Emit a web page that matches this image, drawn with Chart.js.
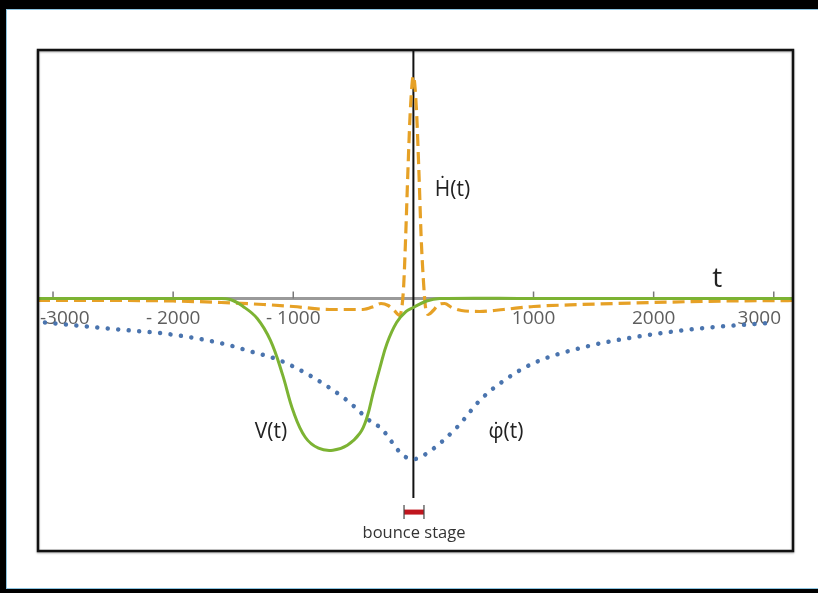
<!DOCTYPE html>
<html>
<head>
<meta charset="utf-8">
<script src="https://cdn.jsdelivr.net/npm/chart.js@4.4.1/dist/chart.umd.min.js"></script>
<style>
  html, body { margin: 0; padding: 0; background: #000; overflow: hidden; }
  #panel { position: absolute; left: 6px; top: 9px; width: 830px; height: 578px; background: #fff; border: 1px solid #8cc4e0; border-right: none; }
  #chart { position: absolute; left: 0; top: 0; }
</style>
</head>
<body>
<div id="panel"></div>
<canvas id="chart" width="818" height="593"></canvas>
<script>
// axis ticks
const tickValues = [-3000, -2000, -1000, 1000, 2000, 3000];
const tickLabels = ['-3000', '- 2000', '- 1000', '1000', '2000', '3000'];

// H(t) - dashed orange
const hT = [-3125, -2500, -2000, -1600, -1250, -1000, -700, -420, -330, -270, -210, -160, -115, -95, -80, -65, -45, -25, 0,
            25, 45, 65, 85, 100, 125, 165, 210, 260, 320, 400, 550, 750, 1000, 1400, 2000, 2600, 3160];
const hY = [-0.02, -0.02, -0.025, -0.04, -0.06, -0.08, -0.11, -0.11, -0.08, -0.05, -0.07, -0.12, -0.17, -0.08, 0.15, 0.6, 1.3, 1.9, 2.23,
            1.9, 1.3, 0.6, 0.15, -0.08, -0.16, -0.12, -0.06, -0.05, -0.09, -0.12, -0.13, -0.11, -0.08, -0.06, -0.04, -0.025, -0.02];

// V(t) - solid green
const vT = [-3125, -2000, -1650, -1525, -1418, -1300, -1190, -1090, -1000, -900, -790, -670, -550, -445, -386, -336, -278, -220, -140, -60, 0, 110, 220, 1000, 3160];
const vY = [0, 0, 0, -0.01, -0.08, -0.2, -0.42, -0.76, -1.13, -1.39, -1.5, -1.52, -1.47, -1.35, -1.19, -0.95, -0.69, -0.45, -0.24, -0.13, -0.09, -0.025, 0, 0, 0];

// phi-dot(t) - dotted blue
const pT = [-3067, -2634, -2360, -2085, -1802, -1527, -1386, -1111, -836, -553, -336, -278, -87, 0, 113, 363, 554, 721, 996, 1412, 1828, 2385, 2967];
const pY = [-0.24, -0.29, -0.32, -0.35, -0.40, -0.47, -0.52, -0.62, -0.79, -1.02, -1.25, -1.29, -1.57, -1.61, -1.55, -1.29, -1.02, -0.85, -0.65, -0.49, -0.39, -0.30, -0.245];

// bounce stage interval
const bounceStage = [-78, 88];

const pts = (ts, ys) => ts.map((t, i) => ({ x: t, y: ys[i] }));

function line(ctx, x1, y1, x2, y2) {
  ctx.beginPath(); ctx.moveTo(x1, y1); ctx.lineTo(x2, y2); ctx.stroke();
}

const overlay = {
  id: 'overlay',
  beforeDatasetsDraw(chart) {
    const { ctx, chartArea: a, scales: { x, y } } = chart;
    const x0 = x.getPixelForValue(0), y0 = y.getPixelForValue(0);
    ctx.save();
    // horizontal axis
    ctx.strokeStyle = '#9a9a9a'; ctx.lineWidth = 3;
    line(ctx, a.left, y0, a.right, y0);
    // tick marks
    ctx.strokeStyle = '#777'; ctx.lineWidth = 1.5;
    tickValues.forEach(v => { const p = x.getPixelForValue(v); line(ctx, p, y0 - 7, p, y0); });
    // tick labels
    ctx.font = '19px "Open Sans"'; ctx.fillStyle = '#5e5e5e';
    ctx.textAlign = 'center'; ctx.textBaseline = 'middle';
    tickValues.forEach((v, i) => {
      const w = ctx.measureText(tickLabels[i]).width;
      let cx = x.getPixelForValue(v);
      cx = Math.max(cx, a.left + 2 + w / 2);
      cx = Math.min(cx, a.right - 12 - w / 2);
      ctx.fillText(tickLabels[i], cx, y0 + 20);
    });
    // vertical axis
    ctx.strokeStyle = '#111'; ctx.lineWidth = 2;
    line(ctx, x0, a.top, x0, y.getPixelForValue(-2.0));
    ctx.restore();
  },
  afterDatasetsDraw(chart) {
    const { ctx, chartArea: a, scales: { x, y } } = chart;
    ctx.save();
    // bounce stage bar
    const b1 = x.getPixelForValue(bounceStage[0]), b2 = x.getPixelForValue(bounceStage[1]);
    const by = y.getPixelForValue(-2.14);
    ctx.strokeStyle = '#c0161e'; ctx.lineWidth = 5;
    line(ctx, b1, by, b2, by);
    ctx.strokeStyle = '#444'; ctx.lineWidth = 1.2;
    line(ctx, b1, by - 7, b1, by + 7);
    line(ctx, b2, by - 7, b2, by + 7);
    ctx.fillStyle = '#333'; ctx.font = '16.5px "Open Sans"';
    ctx.textAlign = 'center'; ctx.textBaseline = 'middle';
    ctx.fillText('bounce stage', (b1 + b2) / 2, by + 21);
    // curve labels
    ctx.fillStyle = '#222';
    ctx.font = '21px "Open Sans"';
    ctx.fillText('\u1E22(t)', x.getPixelForValue(325), y.getPixelForValue(1.09));
    ctx.fillText('V(t)', x.getPixelForValue(-1185), y.getPixelForValue(-1.34));
    ctx.fillText('\u03C6\u0307(t)', x.getPixelForValue(771), y.getPixelForValue(-1.34));
    ctx.font = '28px "Open Sans"';
    ctx.fillText('t', x.getPixelForValue(2530), y.getPixelForValue(0.2));
    // frame
    ctx.shadowColor = 'rgba(0,0,0,0.35)'; ctx.shadowBlur = 2; ctx.shadowOffsetY = 1;
    ctx.strokeStyle = '#111'; ctx.lineWidth = 2.5;
    ctx.strokeRect(a.left, a.top, a.right - a.left, a.bottom - a.top);
    ctx.restore();
  }
};

new Chart(document.getElementById('chart'), {
  type: 'line',
  data: {
    datasets: [
      {
        label: 'V(t)', data: pts(vT, vY), order: 1,
        borderColor: '#7cb333', borderWidth: 3, pointRadius: 0,
        tension: 0.4, fill: false
      },
      {
        label: 'H(t)', data: pts(hT, hY), order: 2,
        borderColor: '#e6a126', borderWidth: 3.2, borderDash: [12, 6], pointRadius: 0,
        cubicInterpolationMode: 'monotone', fill: false
      },
      {
        label: 'phi(t)', data: pts(pT, pY), order: 3,
        borderColor: '#4a74ae', borderWidth: 4.5, borderDash: [0.01, 10.5], borderCapStyle: 'round',
        pointRadius: 0, cubicInterpolationMode: 'monotone', fill: false
      }
    ]
  },
  options: {
    responsive: false,
    animation: false,
    layout: { padding: { left: 38, right: 25, top: 50, bottom: 42 } },
    plugins: { legend: { display: false }, tooltip: { enabled: false } },
    scales: {
      x: { type: 'linear', min: -3125, max: 3160, display: false },
      y: { type: 'linear', min: -2.53, max: 2.49, display: false }
    }
  },
  plugins: [overlay]
});
</script>
</body>
</html>
